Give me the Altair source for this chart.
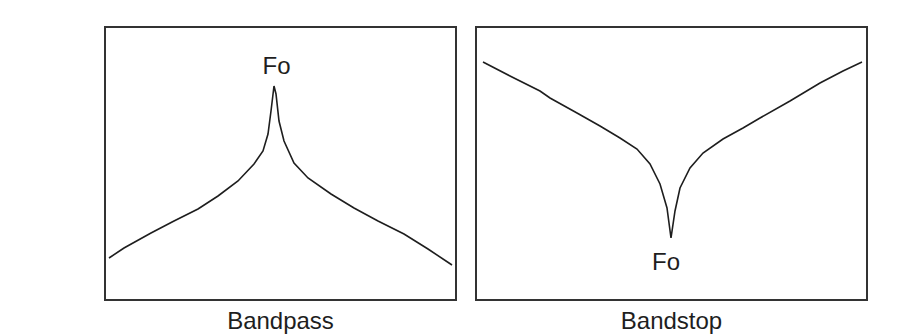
import altair as alt
import pandas as pd

# Bandpass response (relative frequency, relative amplitude)
bp_x = [4, 19, 46, 69, 93, 113, 133, 149, 158, 163, 166, 169, 171, 174, 179, 189, 203, 226, 249, 273, 299, 323, 347]
bp_y = [42, 52, 67, 79, 91, 104, 119, 136, 149, 166, 189, 214, 206, 179, 159, 137, 122, 106, 92, 79, 66, 51, 35]

# Bandstop response
bs_x = [7, 34, 64, 74, 101, 124, 144, 161, 174, 184, 191, 195, 199, 204, 214, 227, 247, 267, 284, 314, 344, 367, 386]
bs_y = [238, 224, 209, 202, 187, 174, 162, 151, 136, 116, 92, 62, 89, 112, 132, 147, 161, 172, 182, 199, 217, 229, 238]

labels = ["Bandpass", "Bandstop"]
fo_text = "Fo"
fo_bp = (171.5, 233)
fo_bs = (190, 37)

FONT = "Liberation Sans"
INK = "#1e1e1e"


def panel(xs, ys, fo, title, w, h):
    df = pd.DataFrame({"x": xs, "y": ys})
    xs_ = alt.Scale(domain=[0, w], nice=False, zero=False)
    ys_ = alt.Scale(domain=[0, h], nice=False, zero=False)
    line = alt.Chart(df).mark_line(color=INK, strokeWidth=1.6).encode(
        x=alt.X("x:Q", scale=xs_, axis=None),
        y=alt.Y("y:Q", scale=ys_, axis=None),
    )
    tdf = pd.DataFrame({"x": [fo[0]], "y": [fo[1]], "t": [fo_text]})
    txt = alt.Chart(tdf).mark_text(font=FONT, fontSize=24, color=INK, baseline="middle", align="center").encode(
        x=alt.X("x:Q", scale=xs_, axis=None),
        y=alt.Y("y:Q", scale=ys_, axis=None),
        text="t:N",
    )
    return alt.layer(line, txt).properties(
        width=w,
        height=h,
        title=alt.TitleParams(title, orient="bottom", anchor="middle", font=FONT, fontSize=24,
                              fontWeight="normal", color=INK, offset=10),
    )


left = panel(bp_x, bp_y, fo_bp, labels[0], 351, 273)
right = panel(bs_x, bs_y, fo_bs, labels[1], 391, 273)

chart = alt.hconcat(left, right, spacing=18).properties(
    padding={"left": 96, "top": 18, "right": 10, "bottom": 0},
    background="#ffffff",
).configure_view(stroke="#333333", strokeWidth=2)

chart.save("out.html", embed_options={"renderer": "svg", "actions": False})
